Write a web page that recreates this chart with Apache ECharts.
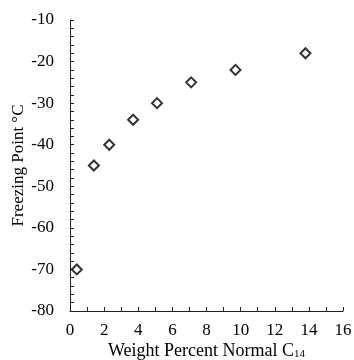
<!DOCTYPE html>
<html>
<head>
<meta charset="utf-8">
<script src="https://cdn.jsdelivr.net/npm/echarts@6/dist/echarts.min.js"></script>
<style>html,body{margin:0;padding:0;background:#fff}#c{width:354px;height:360px}</style>
</head>
<body>
<div id="c"></div>
<script>
const weightPercent = [0.4, 1.4, 2.3, 3.7, 5.1, 7.1, 9.7, 13.8];
const freezingPoint = [-70, -45, -40, -34, -30, -25, -22, -18];
const xName = 'Weight Percent Normal C{sub|14}';
const yName = 'Freezing Point °C';

const font = 'Liberation Serif';
const chart = echarts.init(document.getElementById('c'), null, {renderer: 'canvas'});
chart.setOption({
  animation: false,
  backgroundColor: '#fff',
  grid: {left: 70, right: 11, top: 20, bottom: 49, containLabel: false, outerBoundsMode: 'none'},
  xAxis: {
    type: 'value', min: 0, max: 16, interval: 2,
    name: xName, nameLocation: 'middle', nameGap: 31, nameMoveOverlap: false,
    nameTextStyle: {fontFamily: font, fontSize: 18, color: '#000',
      rich: {sub: {fontFamily: font, fontSize: 11, color: '#000', padding: [7, 0, 0, 0]}}},
    axisLine: {show: true, lineStyle: {color: '#222', width: 1}},
    axisTick: {show: true, inside: true, length: 4, lineStyle: {color: '#222'}},
    minorTick: {show: true, splitNumber: 2, length: 4, lineStyle: {color: '#222'}},
    axisLabel: {fontFamily: font, fontSize: 17, color: '#000', margin: 11},
    splitLine: {show: false}
  },
  yAxis: {
    type: 'value', min: -80, max: -10, interval: 10,
    name: yName, nameLocation: 'middle', nameGap: 43, nameRotate: 90, nameMoveOverlap: false,
    nameTextStyle: {fontFamily: font, fontSize: 17, color: '#000'},
    axisLine: {show: true, lineStyle: {color: '#222', width: 1}},
    axisTick: {show: true, inside: true, length: 4, lineStyle: {color: '#222'}},
    minorTick: {show: true, splitNumber: 5, length: 4, lineStyle: {color: '#222'}},
    axisLabel: {fontFamily: font, fontSize: 17, color: '#000', margin: 16},
    splitLine: {show: false}
  },
  series: [{
    type: 'scatter',
    data: weightPercent.map((x, i) => [x, freezingPoint[i]]),
    symbol: 'diamond',
    symbolSize: [10, 10],
    itemStyle: {color: '#fff', borderColor: '#000', borderWidth: 2}
  }]
});
</script>
</body>
</html>
